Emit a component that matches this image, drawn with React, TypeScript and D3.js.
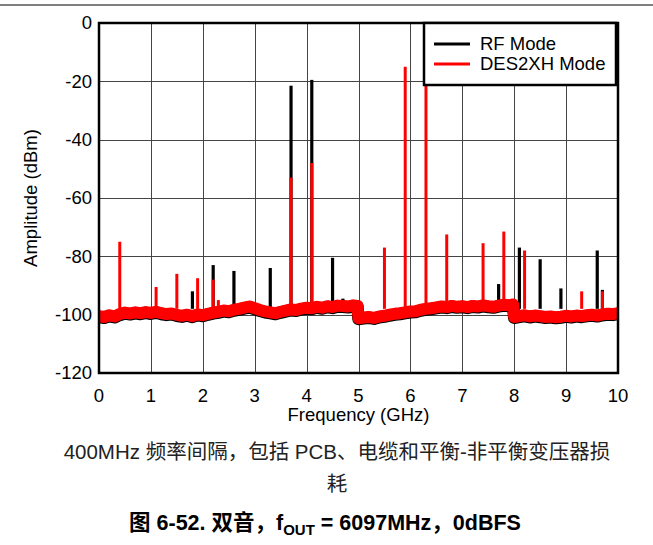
import React from "react";
import * as d3 from "d3";

const xTicks = [0, 1, 2, 3, 4, 5, 6, 7, 8, 9, 10];
const yTicks = [0, -20, -40, -60, -80, -100, -120];

const noiseFreq = [
  0, 0.1, 0.2, 0.3, 0.4, 0.5, 0.6, 0.7, 0.8, 0.9,
  1.0, 1.1, 1.2, 1.3, 1.4, 1.5, 1.6, 1.7, 1.8, 1.9,
  2.0, 2.1, 2.2, 2.3, 2.4, 2.5, 2.6, 2.7, 2.8, 2.9,
  3.0, 3.1, 3.2, 3.3, 3.4, 3.5, 3.6, 3.7, 3.8, 3.9,
  4.0, 4.1, 4.2, 4.3, 4.4, 4.5, 4.6, 4.7, 4.8, 4.9, 4.98,
  5.0, 5.1, 5.2, 5.3, 5.4, 5.5, 5.6, 5.7, 5.8, 5.9,
  6.0, 6.1, 6.2, 6.3, 6.4, 6.5, 6.6, 6.7, 6.8, 6.9,
  7.0, 7.1, 7.2, 7.3, 7.4, 7.5, 7.6, 7.7, 7.8, 7.9, 7.98,
  8.0, 8.1, 8.2, 8.3, 8.4, 8.5, 8.6, 8.7, 8.8, 8.9,
  9.0, 9.1, 9.2, 9.3, 9.4, 9.5, 9.6, 9.7, 9.8, 9.9, 10.0,
];
const noiseFloor = [
  -100.5, -100.8, -100.2, -100.6, -99.8, -99.3, -99.6, -99.2, -99.5, -99.1,
  -99.4, -99.0, -99.5, -99.8, -99.6, -100.1, -100.4, -100.0, -100.5, -99.9,
  -100.2, -99.7, -99.3, -99.0, -98.6, -98.8, -98.3, -98.0, -97.6, -97.2,
  -97.8, -98.4, -98.9, -99.2, -99.5, -99.0, -98.6, -98.2, -98.4, -97.9,
  -97.6, -97.8, -97.3, -97.6, -97.1, -97.4, -96.9, -97.0, -97.2, -96.8, -97.0,
  -101.2, -101.0, -100.8, -101.1, -100.6, -100.4, -100.0, -99.7, -99.5, -99.2,
  -98.9, -98.8, -98.3, -98.0, -97.8, -97.5, -97.2, -97.4, -97.0, -97.3,
  -97.1, -97.4, -97.0, -97.2, -96.8, -97.1, -97.3, -96.9, -96.6, -96.8, -96.5,
  -100.8, -100.5, -100.2, -100.6, -100.3, -100.5, -100.8, -100.6, -100.9, -100.7,
  -100.4, -100.6, -100.3, -100.5, -100.2, -100.0, -100.3, -99.9, -99.7, -99.8, -99.5,
];

const rfSpikeFreq = [1.8, 2.2, 2.6, 3.3, 3.7, 4.1, 4.5, 4.7, 7.7, 8.1, 8.5, 8.9, 9.6, 9.7];
const rfSpikeAmp = [-92, -83, -85, -84, -21.5, -19.5, -80.5, -94.5, -89.5, -77, -81, -91, -78, -91.5];

const desSpikeFreq = [0.4, 1.1, 1.5, 1.9, 2.2, 2.3, 3.7, 4.1, 5.5, 5.9, 6.3, 6.7, 7.4, 7.8, 8.2, 9.3, 9.7];
const desSpikeAmp = [-75, -90.5, -86, -87.5, -88, -95, -53, -48, -77, -15, -15, -72.5, -75.5, -71.5, -78, -92, -92];

const seriesNames = ["RF Mode", "DES2XH Mode"];
const seriesColors = ["#000000", "#ff0000"];

const W = 653;
const H = 545;
const left = 99;
const right = 618;
const top = 23;
const bottom = 373;

const FONT = "'Liberation Sans', Arial, sans-serif";
const CJK = "'Liberation Sans', Arial, 'Noto Sans CJK SC', sans-serif";

export default function App() {
  const x = d3.scaleLinear().domain([0, 10]).range([left, right]);
  const y = d3.scaleLinear().domain([-120, 0]).range([bottom, top]);

  const noiseData = noiseFreq.map((f, i) => [f, noiseFloor[i]] as [number, number]);
  const line = d3
    .line<[number, number]>()
    .x((d) => x(d[0]))
    .y((d) => y(d[1]));
  const noisePath = line(noiseData) || "";

  const spikeBase = -98;

  return (
    <svg
      width={W}
      height={H}
      style={{ position: "absolute", left: 0, top: 0, background: "#fff" }}
      xmlns="http://www.w3.org/2000/svg"
    >
      <defs>
        <clipPath id="plotClip">
          <rect x={left} y={top} width={right - left} height={bottom - top} />
        </clipPath>
      </defs>
      <line x1={0} x2={W} y1={5} y2={5} stroke="#555" strokeWidth={1.5} />

      {/* grid */}
      {xTicks.slice(1, -1).map((t) => (
        <line key={"gx" + t} x1={Math.round(x(t)) + 0.5} x2={Math.round(x(t)) + 0.5} y1={top} y2={bottom} stroke="#444" strokeWidth={1} />
      ))}
      {yTicks.slice(1, -1).map((t) => (
        <line key={"gy" + t} x1={left} x2={right} y1={Math.round(y(t)) + 0.5} y2={Math.round(y(t)) + 0.5} stroke="#444" strokeWidth={1} />
      ))}

      <g clipPath="url(#plotClip)">
        {/* RF mode */}
        <path d={noisePath} fill="none" stroke={seriesColors[0]} strokeWidth={12.5} strokeLinejoin="round" transform="translate(0,0.8)" />
        {rfSpikeFreq.map((f, i) => (
          <line key={"rf" + i} x1={x(f)} x2={x(f)} y1={y(spikeBase)} y2={y(rfSpikeAmp[i])} stroke={seriesColors[0]} strokeWidth={3.2} />
        ))}
        {/* DES2XH mode */}
        <path d={noisePath} fill="none" stroke={seriesColors[1]} strokeWidth={12} strokeLinejoin="round" />
        {desSpikeFreq.map((f, i) => (
          <line key={"des" + i} x1={x(f)} x2={x(f)} y1={y(spikeBase)} y2={y(desSpikeAmp[i])} stroke={seriesColors[1]} strokeWidth={3} />
        ))}
      </g>

      {/* frame */}
      <rect x={left} y={top} width={right - left} height={bottom - top} fill="none" stroke="#000" strokeWidth={2.5} />

      {/* tick labels */}
      {yTicks.map((t) => (
        <text key={"yl" + t} x={92} y={y(t)} dy="0.35em" textAnchor="end" fontFamily={FONT} fontSize={18.5} fill="#000">
          {t}
        </text>
      ))}
      {xTicks.map((t) => (
        <text key={"xl" + t} x={x(t)} y={402} textAnchor="middle" fontFamily={FONT} fontSize={18.5} fill="#000">
          {t}
        </text>
      ))}
      <text x={(left + right) / 2} y={421} textAnchor="middle" fontFamily={FONT} fontSize={18.5} fill="#000">
        Frequency (GHz)
      </text>
      <text
        transform={`translate(37,${(top + bottom) / 2}) rotate(-90)`}
        textAnchor="middle"
        fontFamily={FONT}
        fontSize={18.5}
        fill="#000"
      >
        Amplitude (dBm)
      </text>

      {/* legend */}
      <rect x={424} y={23} width={192} height={62} fill="#fff" stroke="#000" strokeWidth={2.5} />
      {seriesNames.map((n, i) => (
        <g key={n}>
          <line x1={434} x2={470} y1={44 + i * 20} y2={44 + i * 20} stroke={seriesColors[i]} strokeWidth={3} />
          <text x={480} y={44 + i * 20} dy="0.35em" fontFamily={FONT} fontSize={18.5} fill="#000">
            {n}
          </text>
        </g>
      ))}

      {/* caption */}
      <text x={337} y={459} textAnchor="middle" fontFamily={CJK} fontSize={20.5} fill="#222">
        400MHz 频率间隔，包括 PCB、电缆和平衡-非平衡变压器损
      </text>
      <text x={337} y={491} textAnchor="middle" fontFamily={CJK} fontSize={20.5} fill="#222">
        耗
      </text>
      <text x={325} y={530} textAnchor="middle" fontFamily={CJK} fontSize={21.5} fontWeight="bold" fill="#000">
        图 6-52. 双音，f<tspan fontSize={15} dy={5}>OUT</tspan>
        <tspan dy={-5}> = 6097MHz，0dBFS</tspan>
      </text>
    </svg>
  );
}
